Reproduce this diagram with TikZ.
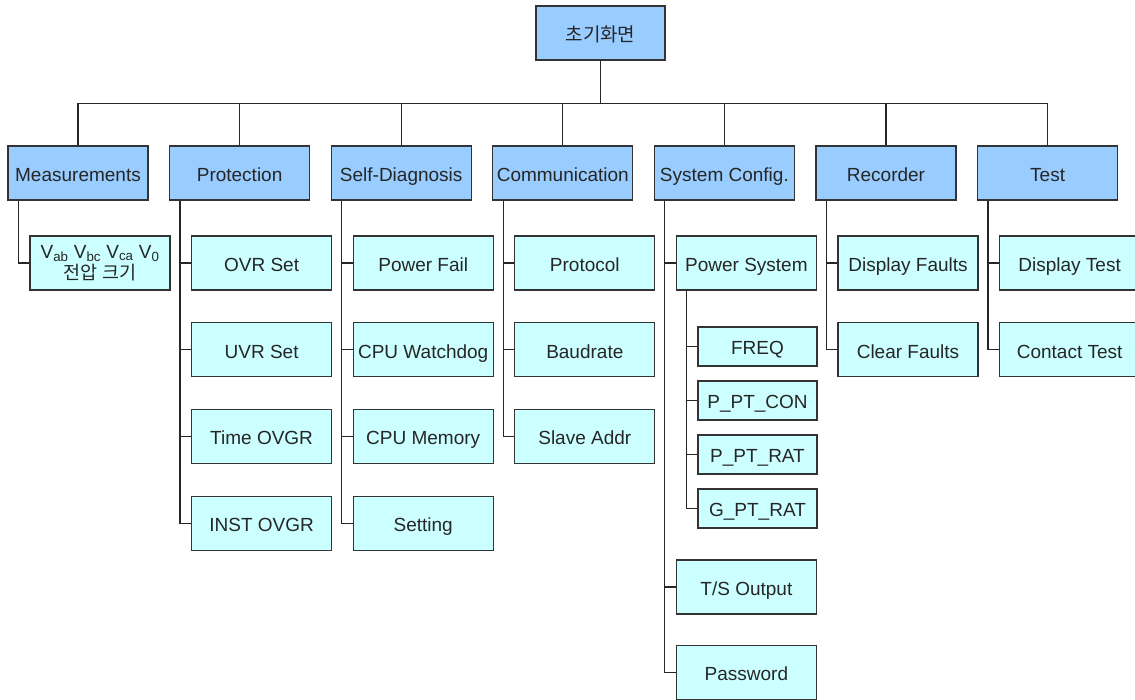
\documentclass[tikz,border=0pt]{standalone}
\usepackage{fontspec}
\setmainfont{Liberation Sans}
\newfontfamily\kr{Noto Sans CJK KR}
\usetikzlibrary{positioning, calc}

\definecolor{menublue}{HTML}{99CCFF}
\definecolor{itemcyan}{HTML}{CCFFFF}

\begin{document}
\begin{tikzpicture}[
    x=1pt, y=-1pt,
    line width=1.3pt,
    font=\fontsize{19}{21}\selectfont,
    box/.style={draw=black!80, text=black!85, inner sep=0pt, minimum height=54pt,
                text height=16.6pt, text depth=0pt},
    top/.style={box, fill=menublue, minimum width=129pt},
    menu/.style={box, fill=menublue, minimum width=140pt},
    item/.style={box, fill=itemcyan, minimum width=140pt, align=center},
    sub/.style={box, fill=itemcyan, minimum width=119pt, minimum height=39pt},
    link/.style={draw=black!85}
]

    \useasboundingbox (0,0) rectangle (1135,700);

    % Root
    \node[top] (root) at (600.5,33) {\kr 초기화면};
    \coordinate (bus) at ([yshift=-43pt]root.south);
    \draw[link] (root) -- (bus);

    % Menu row, 161.6 apart
    \foreach \i/\name in {0/Measurements, 1/Protection, 2/Self-Diagnosis,
                          3/Communication, 4/System Config., 5/Recorder, 6/Test} {
        \pgfmathsetmacro{\xpos}{78 + \i * 161.6}
        \node[menu] (m\i) at (\xpos,173) {\name};
        \draw[link] (m\i.north) |- (bus);
    }

    % Measurements item
    \node[item, minimum height=54pt, text height={}, text depth={}, font=\fontsize{19}{21}\selectfont] (c0-1) at (100,263)
        {V\textsubscript{ab} V\textsubscript{bc} V\textsubscript{ca} V\textsubscript{0}\\{\kr\fontsize{18.5}{18.5}\selectfont 전압 크기}};
    \draw[link] ([xshift=11pt]m0.south west) |- (c0-1.west);

    % Items under each menu
    \foreach \i/\j/\txt in {1/1/OVR Set, 1/2/UVR Set, 1/3/Time OVGR, 1/4/INST OVGR,
                            2/1/Power Fail, 2/2/CPU Watchdog, 2/3/CPU Memory, 2/4/Setting,
                            3/1/Protocol, 3/2/Baudrate, 3/3/Slave Addr,
                            4/1/Power System,
                            5/1/Display Faults, 5/2/Clear Faults,
                            6/1/Display Test, 6/2/Contact Test} {
        \pgfmathsetmacro{\xpos}{100 + \i * 161.6}
        \pgfmathsetmacro{\ypos}{263 + (\j-1) * 86.8}
        \node[item] (c\i-\j) at (\xpos,\ypos) {\txt};
        \draw[link] ([xshift=11pt]m\i.south west) |- (c\i-\j.west);
    }

    % Power System settings
    \foreach \k/\txt in {1/FREQ, 2/P\_PT\_CON, 3/P\_PT\_RAT, 4/G\_PT\_RAT} {
        \pgfmathsetmacro{\ypos}{346.5 + (\k-1) * 54}
        \node[sub] (s\k) at (757.5,\ypos) {\txt};
        \draw[link] ([xshift=11pt]c4-1.south west) |- (s\k.west);
    }

    % Rest of System Config.
    \node[item] (tsout) at (746.4,587) {T/S Output};
    \node[item] (passwd) at (746.4,672.5) {Password};
    \draw[link] ([xshift=11pt]m4.south west) |- (tsout.west);
    \draw[link] ([xshift=11pt]m4.south west) |- (passwd.west);

\end{tikzpicture}
\end{document}
